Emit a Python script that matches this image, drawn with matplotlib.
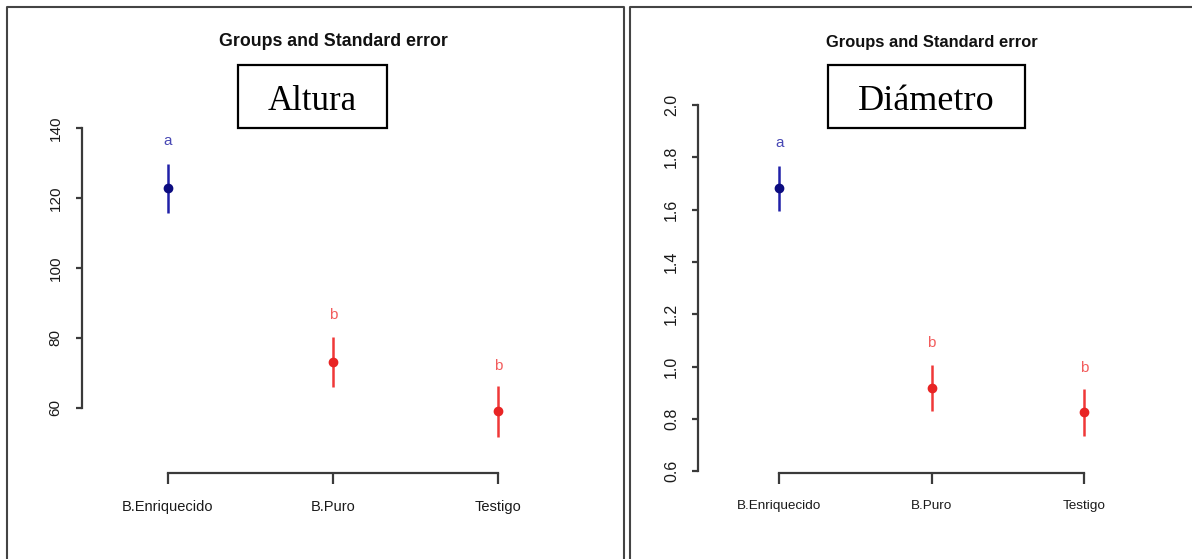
import matplotlib
matplotlib.use("Agg")
import matplotlib.pyplot as plt
from matplotlib.patches import Rectangle
from matplotlib.lines import Line2D

groups = ["B.Enriquecido", "B.Puro", "Testigo"]
letters = ["a", "b", "b"]

altura_mean = [122.8, 73.2, 59.0]
altura_se = [7.0, 7.1, 7.4]
altura_letter_y = [136.3, 86.6, 72.1]

diam_mean = [1.681, 0.919, 0.825]
diam_se = [0.086, 0.088, 0.090]
diam_letter_y = [1.853, 1.089, 0.993]

W, H = 1192, 559
fig = plt.figure(figsize=(W / 100, H / 100), dpi=100)
plt.rcParams['font.family'] = ['Liberation Sans', 'DejaVu Sans']

line_col = {"a": "#2020a8", "b": "#f03838"}
pt_col = {"a": "#0c0c80", "b": "#e82424"}
txt_col = {"a": "#4848b4", "b": "#f25c5c"}
axis_col = "#3a3a3a"


def px_axes(x0, x1, ytop, ybot):
    return fig.add_axes([x0 / W, 1 - ybot / H, (x1 - x0) / W, (ybot - ytop) / H])


def panel(ax, means, ses, lety, ylim, xlim, yticks, yfmt, fs_x, fs_y, ytick_pad):
    x = [1, 2, 3]
    for i in range(3):
        g = letters[i]
        ax.errorbar(x[i], means[i], yerr=ses[i], fmt='o', ms=6,
                    color=line_col[g], mfc=pt_col[g], mec=pt_col[g],
                    elinewidth=1.8, capsize=0)
        ax.text(x[i], lety[i], g, color=txt_col[g], ha='center', va='center',
                fontsize=11)
    ax.set_xlim(*xlim)
    ax.set_ylim(*ylim)
    ax.set_xticks(x)
    ax.set_xticklabels(groups, fontsize=fs_x)
    ax.set_yticks(yticks)
    ax.set_yticklabels([yfmt.format(v) for v in yticks], fontsize=fs_y,
                       rotation=90, va='center')
    for s in ["top", "right"]:
        ax.spines[s].set_visible(False)
    for s in ["left", "bottom"]:
        ax.spines[s].set_color(axis_col)
        ax.spines[s].set_linewidth(1.6)
    ax.spines["left"].set_bounds(yticks[0], yticks[-1])
    ax.spines["bottom"].set_bounds(1, 3)
    ax.tick_params(axis='y', length=4.5, width=1.6, color=axis_col, pad=ytick_pad,
                   labelcolor="#1a1a1a")
    ax.tick_params(axis='x', length=8, width=1.6, color=axis_col, pad=12,
                   labelcolor="#1a1a1a")
    ax.patch.set_visible(False)


# left panel: Altura
ax1 = px_axes(82, 584, 100, 472.7)
panel(ax1, altura_mean, altura_se, altura_letter_y, (41.5, 148), (0.479, 3.521),
      [60, 80, 100, 120, 140], "{:.0f}", 10.5, 11, 9.5)

# right panel: Diametro
ax2 = px_axes(698.4, 1165, 100, 472.7)
panel(ax2, diam_mean, diam_se, diam_letter_y, (0.594, 2.019), (0.468, 3.532),
      [0.6, 0.8, 1.0, 1.2, 1.4, 1.6, 1.8, 2.0], "{:.1f}", 9.7, 11.5, 9.5)

# titles
fig.text(333 / W, 1 - 42 / H, "Groups and Standard error", ha='center', va='center',
         fontsize=12.8, fontweight='bold', color="#111111")
fig.text(932 / W, 1 - 42 / H, "Groups and Standard error", ha='center', va='center',
         fontsize=11.9, fontweight='bold', color="#111111")

# boxed labels
for (bx0, bx1, label, cx, fs) in [(238, 387, "Altura", 312.5, 25),
                                  (828, 1025, "Diámetro", 926.5, 26)]:
    fig.add_artist(Rectangle((bx0 / W, 1 - 128 / H), (bx1 - bx0) / W, 63 / H,
                             transform=fig.transFigure, fill=False,
                             edgecolor="black", linewidth=1.6))
    fig.text(cx / W, 1 - 110 / H, label, ha='center', va='baseline', fontsize=fs,
             family=['Liberation Serif', 'DejaVu Serif'], color="black")

# panel frames
frame = "#444444"
def fline(xs, ys):
    fig.add_artist(Line2D([v / W for v in xs], [1 - v / H for v in ys],
                          transform=fig.transFigure, color=frame, linewidth=1.5))

fline([7, 7, 623.5, 623.5], [H, 6.5, 6.5, H])
fline([629.5, 629.5, W], [H, 6.5, 6.5])

fig.savefig("out.png", dpi=100, facecolor="white")
